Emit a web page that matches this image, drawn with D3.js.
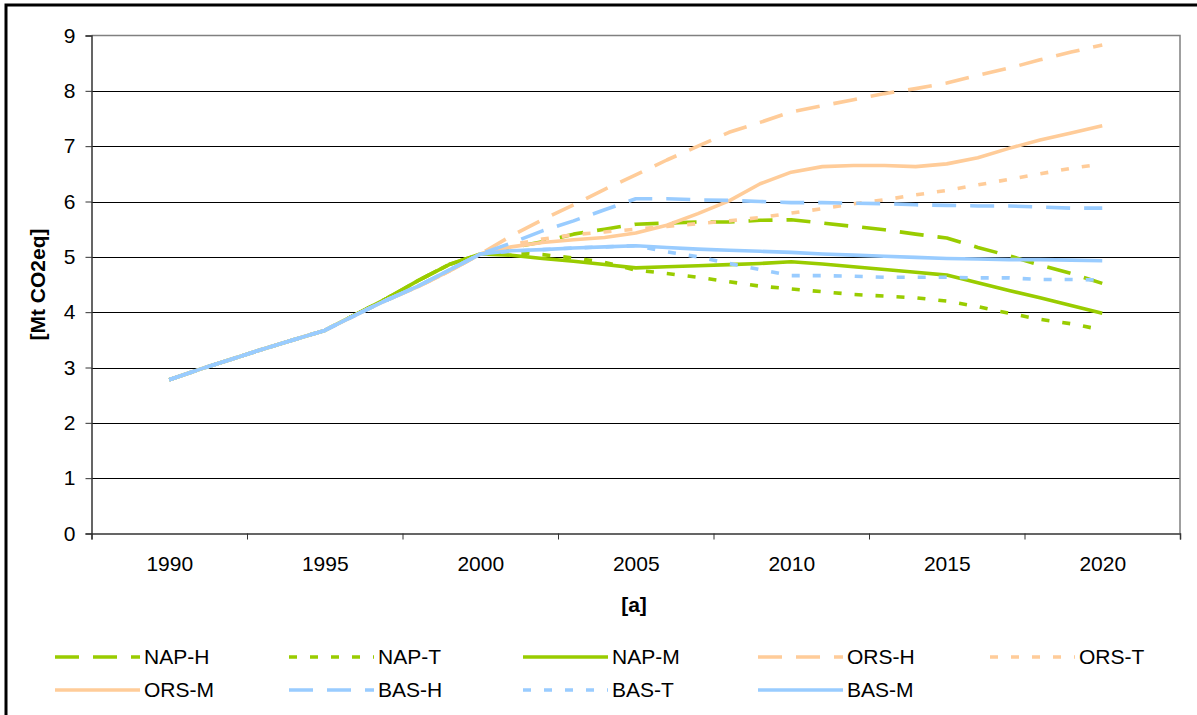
<!DOCTYPE html>
<html>
<head>
<meta charset="utf-8">
<script src="https://cdn.jsdelivr.net/npm/d3@7"></script>
<style>
  html, body { margin: 0; padding: 0; background: #fff; }
  svg { display: block; }
  text { font-family: "Liberation Sans", Arial, sans-serif; fill: #000; }
</style>
</head>
<body>
<svg id="chart" width="1197" height="715"></svg>
<script>
// Emission pathways 1990-2020, Mt CO2eq
const years = d3.range(1990, 2021);
const xTickLabels = [1990, 1995, 2000, 2005, 2010, 2015, 2020];
const yTicks = [0, 1, 2, 3, 4, 5, 6, 7, 8, 9];

// 1990-2000 history (shared start of every scenario)
const histNAP = [2.78, 2.97, 3.15, 3.33, 3.50, 3.67, 3.96, 4.25, 4.57, 4.86, 5.05];
const histORS = [2.78, 2.97, 3.15, 3.33, 3.50, 3.67, 3.95, 4.22, 4.46, 4.74, 5.05];
const histBAS = [2.78, 2.97, 3.15, 3.33, 3.50, 3.67, 3.95, 4.22, 4.47, 4.76, 5.05];

// 2001-2020 scenario values
const napH = [5.17, 5.27, 5.41, 5.50, 5.59, 5.61, 5.63, 5.63, 5.66, 5.67, 5.61, 5.55, 5.49, 5.41, 5.34, 5.17, 5.02, 4.85, 4.70, 4.52];
const napT = [5.08, 5.04, 4.98, 4.90, 4.76, 4.70, 4.63, 4.55, 4.47, 4.42, 4.37, 4.32, 4.29, 4.26, 4.20, 4.10, 3.98, 3.87, 3.79, 3.68];
const napM = [5.03, 4.97, 4.92, 4.86, 4.80, 4.82, 4.84, 4.86, 4.88, 4.91, 4.87, 4.82, 4.77, 4.72, 4.67, 4.53, 4.39, 4.26, 4.12, 3.98];
const orsH = [5.38, 5.67, 5.94, 6.22, 6.48, 6.75, 7.00, 7.25, 7.43, 7.62, 7.73, 7.84, 7.95, 8.04, 8.14, 8.28, 8.41, 8.56, 8.70, 8.83];
const orsT = [5.22, 5.32, 5.40, 5.45, 5.50, 5.55, 5.60, 5.65, 5.71, 5.79, 5.87, 5.96, 6.03, 6.12, 6.20, 6.30, 6.40, 6.50, 6.60, 6.68];
const orsM = [5.18, 5.26, 5.31, 5.35, 5.43, 5.57, 5.78, 6.01, 6.32, 6.53, 6.63, 6.65, 6.65, 6.63, 6.68, 6.79, 6.96, 7.11, 7.24, 7.37];
const basH = [5.25, 5.47, 5.65, 5.85, 6.05, 6.05, 6.03, 6.02, 6.00, 5.98, 5.98, 5.97, 5.96, 5.94, 5.93, 5.92, 5.92, 5.90, 5.88, 5.88];
const basT = [5.10, 5.13, 5.16, 5.18, 5.20, 5.09, 5.00, 4.88, 4.77, 4.66, 4.66, 4.65, 4.63, 4.63, 4.63, 4.62, 4.62, 4.59, 4.59, 4.58];
const basM = [5.11, 5.13, 5.16, 5.18, 5.20, 5.17, 5.14, 5.12, 5.10, 5.08, 5.05, 5.03, 5.01, 4.99, 4.97, 4.96, 4.95, 4.95, 4.94, 4.93];

const seriesNames = ["NAP-H", "NAP-T", "NAP-M", "ORS-H", "ORS-T", "ORS-M", "BAS-H", "BAS-T", "BAS-M"];
const seriesValues = [
  histNAP.concat(napH), histNAP.concat(napT), histNAP.concat(napM),
  histORS.concat(orsH), histORS.concat(orsT), histORS.concat(orsM),
  histBAS.concat(basH), histBAS.concat(basT), histBAS.concat(basM)
];

// styling
const GREEN = "#99CC00", ORANGE = "#FFCC99", BLUE = "#99CCFF";
const colors = [GREEN, GREEN, GREEN, ORANGE, ORANGE, ORANGE, BLUE, BLUE, BLUE];
const DASH = "24,14", DOT = "8,13";
const dashes = [DASH, DOT, null, DASH, DOT, null, DASH, DOT, null];
const LINE_W = 3.6;

const svg = d3.select("#chart");
const FONT = 21;

// outer frame
svg.append("rect")
  .attr("x", 6).attr("y", 5)
  .attr("width", 1240).attr("height", 760)
  .attr("fill", "none").attr("stroke", "#000").attr("stroke-width", 3);

const plotLeft = 91.5, plotRight = 1180, plotTop = 35.5, plotBottom = 533.5;
const x = d3.scaleLinear().domain([1987.5, 2022.5]).range([plotLeft, plotRight]);
const y = d3.scaleLinear().domain([0, 9]).range([plotBottom, plotTop]);

// horizontal gridlines
svg.append("g")
  .selectAll("line")
  .data(yTicks.filter(d => d > 0 && d < 9))
  .join("line")
  .attr("x1", plotLeft).attr("x2", plotRight)
  .attr("y1", d => Math.round(y(d)) + 0.5).attr("y2", d => Math.round(y(d)) + 0.5)
  .attr("stroke", "#000").attr("stroke-width", 1);

// plot area frame (top and right)
svg.append("path")
  .attr("d", `M${plotLeft},${plotTop}H${plotRight}V${plotBottom}`)
  .attr("fill", "none").attr("stroke", "#808080").attr("stroke-width", 1.5);

// y axis
const yAxis = svg.append("g")
  .attr("transform", `translate(${plotLeft},0)`)
  .call(d3.axisLeft(y).tickValues(yTicks).tickSize(6).tickPadding(10).tickFormat(d3.format("d")));
yAxis.select(".domain").attr("stroke", "#333").attr("stroke-width", 1.5);
yAxis.selectAll(".tick line").attr("stroke", "#333");
yAxis.selectAll("text").style("font-size", FONT + "px").attr("font-family", null);

// x axis: tick marks between 5-year groups
const xAxis = svg.append("g")
  .attr("transform", `translate(0,${plotBottom})`)
  .call(d3.axisBottom(x).tickValues(d3.range(1987.5, 2023, 5)).tickSize(6).tickFormat(""));
xAxis.select(".domain").attr("stroke", "#333").attr("stroke-width", 1.5);
xAxis.selectAll(".tick line").attr("stroke", "#333");

// x labels
const xLabels = svg.append("g")
  .attr("transform", `translate(0,${plotBottom})`)
  .call(d3.axisBottom(x).tickValues(xTickLabels).tickSize(0).tickPadding(23).tickFormat(d3.format("d")));
xLabels.select(".domain").remove();
xLabels.selectAll("text").style("font-size", FONT + "px").attr("font-family", null);

// axis titles
svg.append("text")
  .attr("transform", `translate(38,${(plotTop + plotBottom) / 2}) rotate(-90)`)
  .attr("text-anchor", "middle").attr("dy", "0.35em")
  .style("font-size", FONT + "px").style("font-weight", "bold")
  .text("[Mt CO2eq]");
svg.append("text")
  .attr("x", 634).attr("y", 605).attr("dy", "0.35em")
  .attr("text-anchor", "middle")
  .style("font-size", FONT + "px").style("font-weight", "bold")
  .text("[a]");

// series lines
const line = d3.line()
  .x((d, i) => x(years[i]))
  .y(d => y(d));

svg.append("g")
  .selectAll("path")
  .data(seriesValues)
  .join("path")
  .attr("d", d => line(d))
  .attr("fill", "none")
  .attr("stroke", (d, i) => colors[i])
  .attr("stroke-width", LINE_W)
  .attr("stroke-dasharray", (d, i) => dashes[i])
  .attr("stroke-linejoin", "round");

// legend: 5 columns, 2 rows
const legendCols = [55, 289, 523, 758, 990];
const legendRows = [657, 690];
const legend = svg.append("g")
  .selectAll("g")
  .data(seriesNames)
  .join("g")
  .attr("transform", (d, i) => `translate(${legendCols[i % 5]},${legendRows[Math.floor(i / 5)]})`);
legend.append("line")
  .attr("x1", 0).attr("x2", 85).attr("y1", 0).attr("y2", 0)
  .attr("stroke", (d, i) => colors[i])
  .attr("stroke-width", LINE_W)
  .attr("stroke-dasharray", (d, i) => dashes[i]);
legend.append("text")
  .attr("x", 89).attr("y", 0).attr("dy", "0.35em")
  .style("font-size", FONT + "px")
  .text(d => d);
</script>
</body>
</html>
